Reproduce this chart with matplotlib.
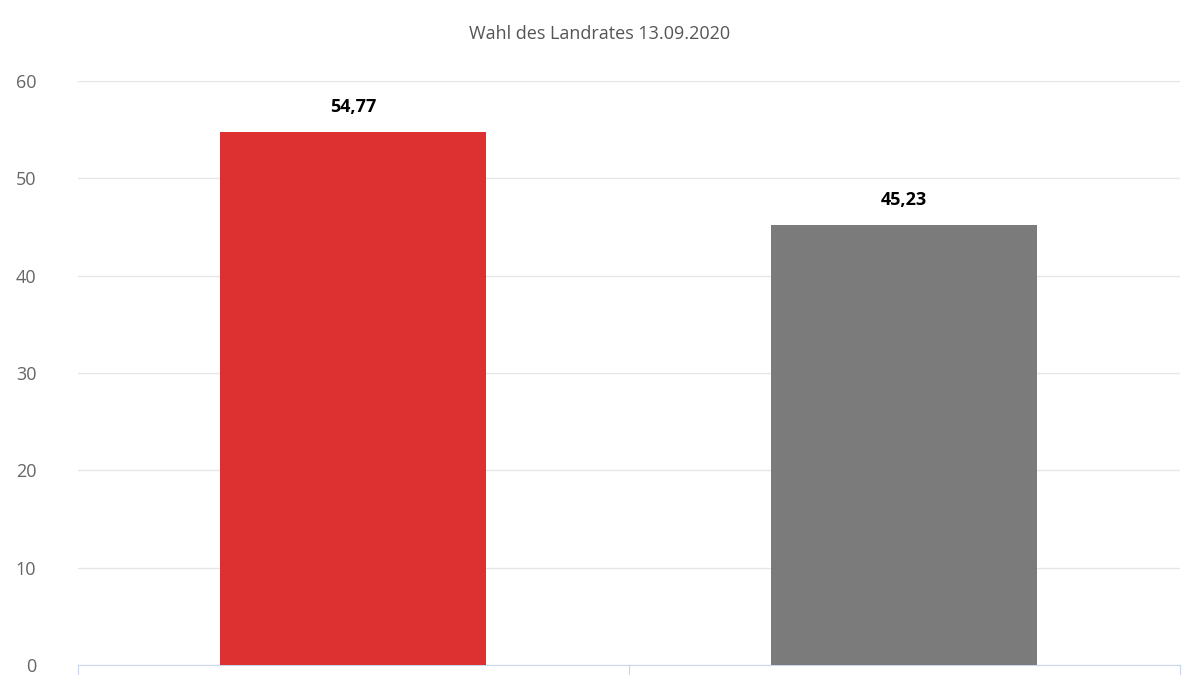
import matplotlib.pyplot as plt

candidates = ["Kandidat 1", "Kandidat 2"]
shares = [54.77, 45.23]
bar_colors = ["#dc3130", "#7b7b7b"]
yticks = [0, 10, 20, 30, 40, 50, 60]

plt.rcParams['font.family'] = ['Open Sans', 'DejaVu Sans']

fig = plt.figure(figsize=(12, 6.75), dpi=100)
ax = fig.add_axes([0.065, 0.0148, 0.918, 0.8652])

x = range(len(candidates))
bars = ax.bar(x, shares, width=0.483, color=bar_colors, zorder=3)
for b, v in zip(bars, shares):
    ax.text(b.get_x() + b.get_width() / 2, v + 1.6, f"{v:.2f}".replace(".", ","),
            ha="center", va="bottom", fontsize=13, fontweight="bold", color="black")

ax.set_xlim(-0.5, len(candidates) - 0.5)
ax.set_ylim(0, 60)
ax.set_yticks(yticks)
ax.set_yticklabels([str(t) for t in yticks], fontsize=13, color="#666666")
ax.tick_params(axis="y", length=0, pad=30)
ax.set_xticks([i - 0.5 for i in range(len(candidates) + 1)])
ax.set_xticklabels([])
ax.tick_params(axis="x", length=8, color="#ccd6eb", direction="out")
ax.grid(axis="y", color="#e6e6e6", linewidth=1, zorder=0)
for s in ["top", "right", "left"]:
    ax.spines[s].set_visible(False)
ax.spines["bottom"].set_color("#ccd6eb")

fig.text(0.5, 0.95, "Wahl des Landrates 13.09.2020", ha="center", va="center",
         fontsize=13, color="#555555")

fig.savefig("out.png", dpi=100)
